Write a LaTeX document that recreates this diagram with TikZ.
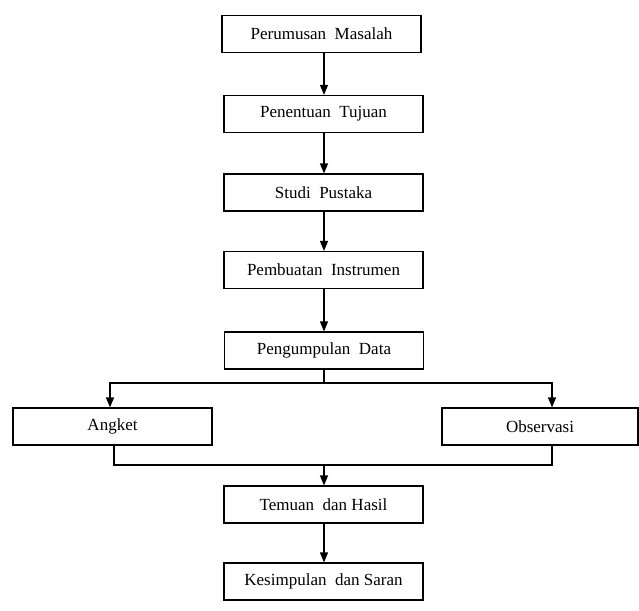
\documentclass[tikz,border=0pt]{standalone}
\usepackage{fontspec}
\setmainfont{Liberation Serif}
\usepackage{tikz}
\usetikzlibrary{arrows.meta}
\usetikzlibrary{positioning}
\tikzstyle{base}=[x=1pt, y=1pt, line width=1.2pt]
\tikzstyle{kotak}=[draw=black, fill=white, minimum width=199pt, minimum height=37pt, inner sep=0pt,
    font=\fontsize{17}{20}\selectfont]
\tikzstyle{panah}=[-{Triangle[width=8pt,length=10pt]}]

\begin{document}
\begin{tikzpicture}[base]
    \path [use as bounding box] (0,0) rectangle (639,-610);
        \node [kotak] (rumusan) at (321.5,-34) {Perumusan\ \ Masalah};
        \node [kotak] (tujuan) at (323.5,-114) {Penentuan\ \ Tujuan};
        \node [kotak] (pustaka) at (323.5,-192.5) {Studi\ \ Pustaka};
        \node [kotak] (instrumen) at (323.5,-270) {Pembuatan\ \ Instrumen};
        \node [kotak] (data) at (324,-350.5) {Pengumpulan\ \ Data};
        \node [kotak] (angket) at (112.5,-426.5) {Angket};
        \node [kotak, minimum width=196pt] (observasi) at (540,-426.5) {Observasi};
        \node [kotak] (temuan) at (323.5,-504.5) {Temuan\ \ dan Hasil};
        \node [kotak] (simpulan) at (323.5,-581.5) {Kesimpulan\ \ dan Saran};
        \draw [panah] (rumusan.south -| 324,0) -- (tujuan.north -| 324,0);
        \draw [panah] (tujuan.south -| 324,0) -- (pustaka.north -| 324,0);
        \draw [panah] (pustaka.south -| 324,0) -- (instrumen.north -| 324,0);
        \draw [panah] (instrumen.south -| 324,0) -- (data.north -| 324,0);
        \coordinate (cabang) at (324,-383);
        \draw (data.south -| cabang) -- (cabang);
        \draw [panah] (cabang) -| ([xshift=-2.5pt]angket.north);
        \draw [panah] (cabang) -| ([xshift=12pt]observasi.north);
        \coordinate (gabung) at (324,-465);
        \draw ([xshift=1.5pt]angket.south) |- (gabung) -| ([xshift=12pt]observasi.south);
        \draw [panah] (gabung) -- (temuan.north -| gabung);
        \draw [panah] (temuan.south -| gabung) -- (simpulan.north -| gabung);
    \end{tikzpicture}
\end{document}
